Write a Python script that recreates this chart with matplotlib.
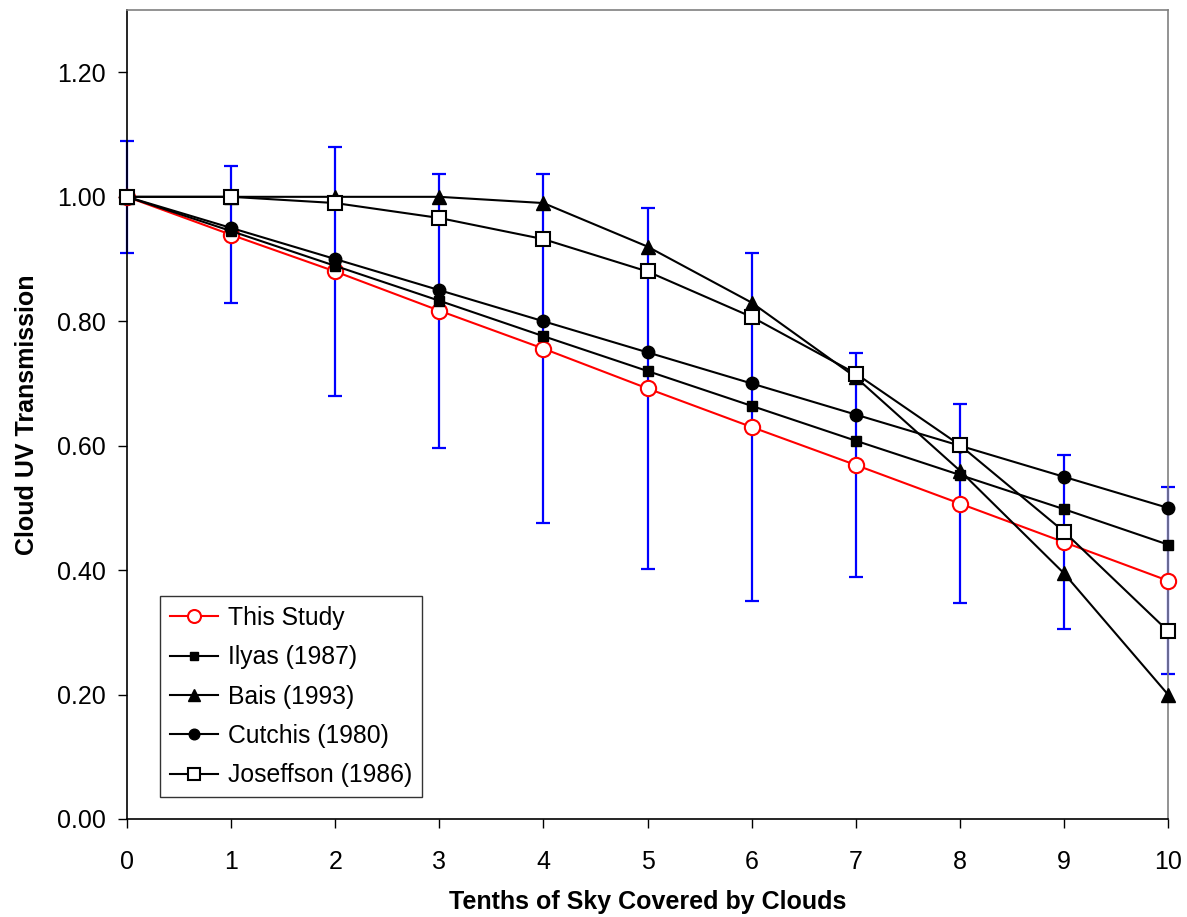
import matplotlib
matplotlib.use("Agg")
import matplotlib.pyplot as plt
from matplotlib.ticker import FormatStrFormatter

plt.rcParams['font.family'] = ['Liberation Sans', 'DejaVu Sans']

tenths = [0, 1, 2, 3, 4, 5, 6, 7, 8, 9, 10]
this_study = [1.00, 0.939, 0.880, 0.817, 0.756, 0.692, 0.630, 0.569, 0.507, 0.445, 0.383]
this_err = [0.09, 0.11, 0.20, 0.22, 0.28, 0.29, 0.28, 0.18, 0.16, 0.14, 0.15]
ilyas = [1.00, 0.945, 0.889, 0.833, 0.776, 0.720, 0.664, 0.608, 0.553, 0.498, 0.441]
bais = [1.00, 1.00, 1.00, 1.00, 0.99, 0.92, 0.83, 0.71, 0.56, 0.395, 0.20]
cutchis = [1.00, 0.95, 0.90, 0.85, 0.80, 0.75, 0.70, 0.65, 0.60, 0.55, 0.50]
josefsson = [1.00, 1.00, 0.99, 0.966, 0.932, 0.880, 0.807, 0.716, 0.601, 0.462, 0.302]

fig = plt.figure(figsize=(11.87, 9.17), dpi=100)
ax = fig.add_axes([0.107, 0.1069, 0.877, 0.882])

ax.errorbar(tenths, this_study, yerr=this_err, fmt='none', ecolor='#0000ff',
            elinewidth=1.6, capsize=5, capthick=1.6, zorder=2, clip_on=False)

lw = 1.5
ax.plot(tenths, this_study, color='red', lw=lw, marker='o', ms=11, mfc='white',
        mec='red', mew=1.5, label='This Study', zorder=3, clip_on=False)
ax.plot(tenths, ilyas, color='black', lw=lw, marker='s', ms=7, mfc='black',
        mec='black', label='Ilyas (1987)', zorder=4, clip_on=False)
ax.plot(tenths, bais, color='black', lw=lw, marker='^', ms=10, mfc='black',
        mec='black', label='Bais (1993)', zorder=5, clip_on=False)
ax.plot(tenths, cutchis, color='black', lw=lw, marker='o', ms=9, mfc='black',
        mec='black', label='Cutchis (1980)', zorder=6, clip_on=False)
ax.plot(tenths, josefsson, color='black', lw=lw, marker='s', ms=9.5, mfc='white',
        mec='black', mew=1.5, label='Joseffson (1986)', zorder=7, clip_on=False)

ax.set_xlim(0, 10)
ax.set_ylim(0, 1.3)
ax.set_xticks(tenths)
ax.set_yticks([0, 0.2, 0.4, 0.6, 0.8, 1.0, 1.2])
ax.yaxis.set_major_formatter(FormatStrFormatter('%.2f'))
ax.tick_params(axis='both', direction='out', length=6.5, width=1, labelsize=18)
ax.tick_params(axis='x', pad=16)
ax.tick_params(axis='y', pad=9)

for s in ['top', 'right']:
    ax.spines[s].set_color('#808080')
for s in ['left', 'bottom']:
    ax.spines[s].set_color('black')
for s in ax.spines.values():
    s.set_linewidth(1.2)

ax.set_xlabel('Tenths of Sky Covered by Clouds', fontsize=18, fontweight='bold', labelpad=11)
ax.set_ylabel('Cloud UV Transmission', fontsize=18, fontweight='bold', labelpad=13)

leg = ax.legend(loc='lower left', bbox_to_anchor=(0.0317, 0.027), borderaxespad=0,
                fontsize=17.8, frameon=True, fancybox=False, edgecolor='black',
                handlelength=1.95, labelspacing=0.62, borderpad=0.4, handletextpad=0.4,
                markerscale=0.85)
leg.get_frame().set_linewidth(1.0)

fig.savefig('out.png', dpi=100)
